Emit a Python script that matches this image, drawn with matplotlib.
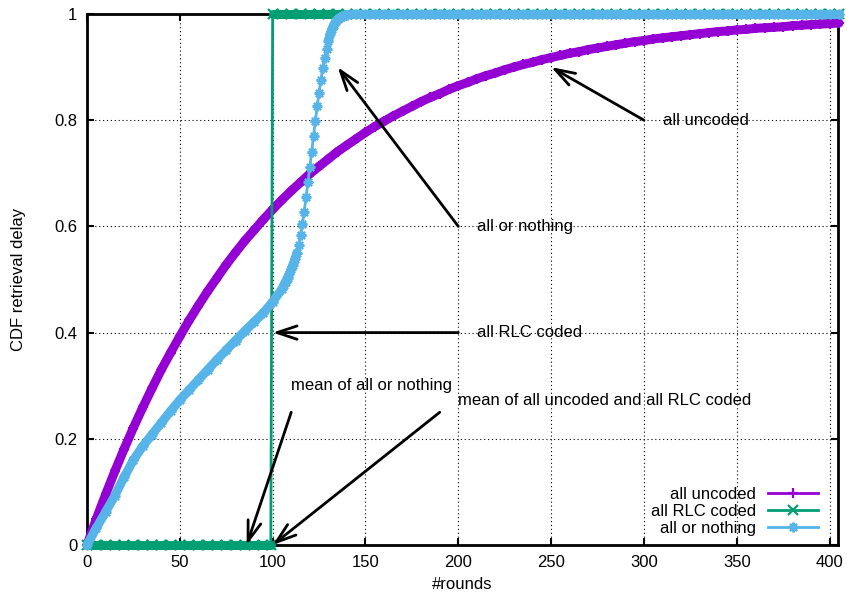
import numpy as np
import matplotlib.pyplot as plt
from matplotlib.collections import LineCollection
from matplotlib.lines import Line2D
from matplotlib.ticker import FormatStrFormatter

plt.rcParams['font.family'] = ['Liberation Sans', 'DejaVu Sans']
plt.rcParams['font.size'] = 12

# --- values ---
rounds = list(range(0, 406, 5))
uncoded = [0.000, 0.049, 0.095, 0.139, 0.181, 0.221, 0.259, 0.295, 0.330, 0.362,
           0.393, 0.423, 0.451, 0.478, 0.503, 0.528, 0.551, 0.573, 0.593, 0.613,
           0.632, 0.650, 0.667, 0.683, 0.699, 0.713, 0.727, 0.741, 0.753, 0.765,
           0.777, 0.788, 0.798, 0.808, 0.817, 0.826, 0.835, 0.843, 0.850, 0.858,
           0.865, 0.871, 0.878, 0.884, 0.889, 0.895, 0.900, 0.905, 0.909, 0.914,
           0.918, 0.922, 0.926, 0.929, 0.933, 0.936, 0.939, 0.942, 0.945, 0.948,
           0.950, 0.953, 0.955, 0.957, 0.959, 0.961, 0.963, 0.965, 0.967, 0.968,
           0.970, 0.971, 0.973, 0.974, 0.975, 0.976, 0.978, 0.979, 0.980, 0.981,
           0.982, 0.983]

rlc_x = list(range(0, 96, 5)) + [99, 100] + list(range(105, 406, 5))
rlc_y = [0.0] * 21 + [1.0] * 62

aon_x = list(range(0, 106, 5)) + list(range(106, 141)) + list(range(145, 406, 5))
aon_y = ([0.000, 0.032, 0.062, 0.093, 0.128, 0.160, 0.186, 0.208, 0.230, 0.252,
          0.273, 0.292, 0.311, 0.330, 0.349, 0.367, 0.385, 0.403, 0.420, 0.437,
          0.458, 0.482]
         + [0.489, 0.496, 0.503, 0.511, 0.519, 0.528, 0.538, 0.550, 0.565, 0.583,
            0.604, 0.628, 0.655, 0.683, 0.712, 0.741, 0.770, 0.799, 0.826, 0.852,
            0.876, 0.898, 0.918, 0.935, 0.950, 0.962, 0.972, 0.980, 0.986, 0.990,
            0.993, 0.995, 0.997, 0.998, 0.999]
         + [1.0] * 53)  # flat at 1 from 145 rounds on

labels = ['all uncoded', 'all RLC coded', 'all or nothing']
colors = ['#9400D3', '#009E73', '#56B4E9']
markers = ['+', 'x', (8, 2, 0)]

# annotations: text, text pos, arrow tail, arrow head
notes = [
    ('all uncoded', (310, 0.8), (300, 0.8), (250, 0.9)),
    ('all or nothing', (210, 0.6), (200, 0.6), (135, 0.9)),
    ('all RLC coded', (210, 0.4), (200, 0.4), (100, 0.4)),
    ('mean of all or nothing', (110, 0.30), (110, 0.25), (86, 0.0)),
    ('mean of all uncoded and all RLC coded', (200, 0.272), (190, 0.25), (100, 0.0)),
]


def draw_series(ax, x, y, color, marker, z):
    # gnuplot-style: dense points merge into a thick band, steep parts stay thin
    x = np.asarray(x, float)
    y = np.asarray(y, float)
    pts = np.column_stack([x, y])
    segs = np.stack([pts[:-1], pts[1:]], axis=1)
    slope = np.abs(np.diff(y) / np.diff(x))
    band = LineCollection(segs[slope < 0.014], colors=color, linewidths=6.5,
                          capstyle='round', zorder=z, clip_on=False)
    ax.add_collection(band)
    ax.plot(x, y, color=color, lw=2, marker=marker, ms=7, mew=1.6,
            zorder=z, clip_on=False)


fig = plt.figure(figsize=(8.47, 5.94), dpi=100)
ax = fig.add_axes([87 / 847, 49 / 594, 751 / 847, 531 / 594])

series = [(rounds, uncoded), (rlc_x, rlc_y), (aon_x, aon_y)]
for i, (x, y) in enumerate(series):
    draw_series(ax, x, y, colors[i], markers[i], 3 + i * 0.1)

for text, tpos, tail, head in notes:
    ax.annotate('', xy=head, xytext=tail,
                arrowprops=dict(arrowstyle='->,head_length=0.9,head_width=0.3',
                                mutation_scale=16, lw=2, color='black',
                                shrinkA=0, shrinkB=0), zorder=4)
    ax.text(tpos[0], tpos[1], text, ha='left', va='center', zorder=4)

ax.set_xlim(0, 404.5)
ax.set_ylim(0, 1)
ax.set_xticks(range(0, 401, 50))
ax.set_yticks([0, 0.2, 0.4, 0.6, 0.8, 1])
ax.yaxis.set_major_formatter(FormatStrFormatter('%g'))
ax.grid(True, color='black', lw=0.8, linestyle=(0, (1, 2.5)))
ax.set_axisbelow(True)
ax.tick_params(direction='in', length=5, width=1.5, top=True, right=True, pad=7)
for s in ax.spines.values():
    s.set_linewidth(2)

ax.set_xlabel('#rounds', labelpad=5)
ax.set_ylabel('CDF retrieval delay', labelpad=20)

handles = [Line2D([], [], color=c, lw=2, marker=m, ms=7, mew=1.6)
           for c, m in zip(colors, markers)]
ax.legend(handles, labels, loc='lower right', bbox_to_anchor=(0.9734, 0.017),
          frameon=False, markerfirst=False, handlelength=3.0, handletextpad=0.7,
          labelspacing=0.12, borderpad=0, borderaxespad=0)

fig.savefig('out.png', dpi=100)
